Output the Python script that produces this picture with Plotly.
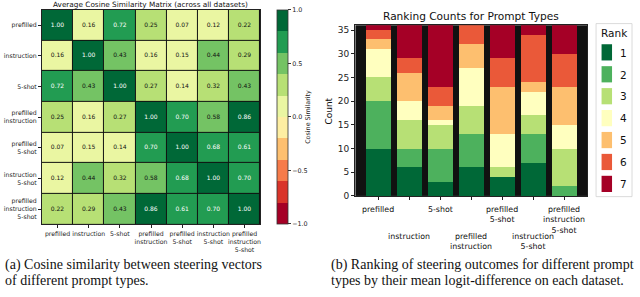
import plotly.graph_objects as go

# ---------------- data ----------------
prompt_types = ["prefilled", "instruction", "5-shot", "prefilled instruction",
                "prefilled 5-shot", "instruction 5-shot", "prefilled instruction 5-shot"]
tick_labels = ["prefilled", "instruction", "5-shot", "prefilled<br>instruction",
               "prefilled<br>5-shot", "instruction<br>5-shot", "prefilled<br>instruction<br>5-shot"]

cos_sim = [
    [1.00, 0.16, 0.72, 0.25, 0.07, 0.12, 0.22],
    [0.16, 1.00, 0.43, 0.16, 0.15, 0.44, 0.29],
    [0.72, 0.43, 1.00, 0.27, 0.14, 0.32, 0.43],
    [0.25, 0.16, 0.27, 1.00, 0.70, 0.58, 0.86],
    [0.07, 0.15, 0.14, 0.70, 1.00, 0.68, 0.61],
    [0.12, 0.44, 0.32, 0.58, 0.68, 1.00, 0.70],
    [0.22, 0.29, 0.43, 0.86, 0.61, 0.70, 1.00],
]

ranks = ["1", "2", "3", "4", "5", "6", "7"]
rank1 = [10, 6, 3, 6, 4, 7, 0]
rank2 = [10, 4, 7, 7, 0, 6, 2]
rank3 = [5, 6, 5, 6, 2, 4, 8]
rank4 = [6, 4, 1, 8, 7, 5, 5]
rank5 = [2, 6, 3, 5, 10, 2, 8]
rank6 = [2, 3, 4, 4, 6, 10, 7]
rank7 = [1, 7, 13, 0, 7, 2, 6]
rank_counts = [rank1, rank2, rank3, rank4, rank5, rank6, rank7]

cbar_ticks = [-1.0, -0.5, 0.0, 0.5, 1.0]
cbar_ticktext = ["\u22121.0", "\u22120.5", "0.0", "0.5", "1.0"]
count_ticks = [0, 5, 10, 15, 20, 25, 30, 35]

# ---------------- styles ----------------
heat_colors = ["#a50026", "#d9342a", "#f67b4a", "#fdbf6f", "#feeea2",
               "#eaf6a2", "#b7e075", "#74c364", "#229c52", "#006837"]
rank_colors = ["#006837", "#4db15d", "#b7e075", "#ffffbf", "#fdbf6f", "#ea5939", "#a50026"]
FONT = "DejaVu Sans"
W, H = 640, 297

def px(v):  # pixel x -> paper
    return v / W

def py(v):  # pixel y (from top) -> paper
    return 1 - v / H

colorscale = []
n = len(heat_colors)
for i, c in enumerate(heat_colors):
    colorscale.append([i / n, c])
    colorscale.append([(i + 1) / n, c])

fig = go.Figure()

idx = list(range(len(prompt_types)))
fig.add_trace(go.Heatmap(
    z=cos_sim, x=idx, y=idx, zmin=-1, zmax=1, colorscale=colorscale,
    xgap=1, ygap=1, xaxis="x", yaxis="y", hoverinfo="skip",
    colorbar=dict(
        x=px(277), xanchor="left", xpad=0, ypad=0,
        y=py(119), yanchor="middle", len=218 / H, lenmode="fraction",
        thickness=11, thicknessmode="pixels",
        outlinewidth=0.8, outlinecolor="#333",
        tickvals=cbar_ticks, ticktext=cbar_ticktext, ticks="outside", ticklen=3,
        tickcolor="#333", tickfont=dict(family=FONT, size=6.4, color="#222"),
        title=dict(text="Cosine Similarity", side="right",
                   font=dict(family=FONT, size=6.4, color="#222")),
    ),
))

tx, ty, tt, tc = [], [], [], []
for r, row in enumerate(cos_sim):
    for c, v in enumerate(row):
        tx.append(c); ty.append(r); tt.append(f"{v:.2f}")
        tc.append("white" if v >= 0.6 else "#111")
fig.add_trace(go.Scatter(x=tx, y=ty, text=tt, mode="text", xaxis="x", yaxis="y",
                         textfont=dict(family=FONT, size=6, color=tc),
                         showlegend=False, hoverinfo="skip"))

for k, counts in enumerate(rank_counts):
    fig.add_trace(go.Bar(x=idx, y=counts, name=ranks[k], marker_color=rank_colors[k],
                         marker_line_width=0, width=0.8, xaxis="x2", yaxis="y2",
                         showlegend=False))

axis_common = dict(showline=True, linecolor="#222", linewidth=0.8, mirror=True,
                   ticks="outside", tickcolor="#222", showgrid=False, zeroline=False)

fig.update_layout(
    width=W, height=H, margin=dict(l=0, r=0, t=0, b=0),
    paper_bgcolor="white", plot_bgcolor="#111", barmode="stack",
    showlegend=False,
    xaxis=dict(domain=[px(42), px(260.5)], range=[-0.5, 6.5], tickvals=idx,
               ticktext=tick_labels, ticklen=3, tickangle=0,
               tickfont=dict(family=FONT, size=6.2, color="#222"),
               anchor="y", **axis_common),
    yaxis=dict(domain=[py(228.3), py(10)], range=[6.5, -0.5], tickvals=idx,
               ticktext=tick_labels, ticklen=3, tickangle=0,
               tickfont=dict(family=FONT, size=6.2, color="#222"),
               anchor="x", **axis_common),
    xaxis2=dict(domain=[px(356), px(588)], range=[-0.74, 6.74], tickvals=idx,
                showticklabels=False, ticklen=3.5, anchor="y2", **axis_common),
    yaxis2=dict(domain=[py(199.3), py(25.7)], range=[0, 36], tickvals=count_ticks,
                ticklen=3.5, tickfont=dict(family=FONT, size=9, color="#222"),
                anchor="x2", **axis_common),
)

ann = []
ann.append(dict(text="Average Cosine Similarity Matrix (across all datasets)",
                x=px(151), y=py(4.5), xref="paper", yref="paper", showarrow=False,
                xanchor="center", yanchor="middle",
                font=dict(family=FONT, size=7.3, color="#111")))
ann.append(dict(text="Ranking Counts for Prompt Types",
                x=px(472), y=py(16.5), xref="paper", yref="paper", showarrow=False,
                xanchor="center", yanchor="middle",
                font=dict(family=FONT, size=10.6, color="#111")))
ann.append(dict(text="Count", x=px(330), y=py(113), xref="paper", yref="paper",
                showarrow=False, textangle=-90, xanchor="center", yanchor="middle",
                font=dict(family=FONT, size=9, color="#111")))
for i, lab in enumerate(tick_labels):
    top = 206.5 if i % 2 == 0 else 234
    ann.append(dict(text=lab, x=i, y=py(top), xref="x2", yref="paper",
                    showarrow=False, xanchor="center", yanchor="top", align="center",
                    font=dict(family=FONT, size=7.9, color="#111")))

# legend (manual)
shapes = [dict(type="rect", xref="paper", yref="paper", x0=px(597), x1=px(633),
               y0=py(200), y1=py(24), line=dict(color="#d0d0d0", width=0.8),
               fillcolor="white", layer="above")]
ann.append(dict(text="Rank", x=px(615), y=py(33.5), xref="paper", yref="paper",
                showarrow=False, xanchor="center", yanchor="middle",
                font=dict(family=FONT, size=10.5, color="#111")))
for k, lab in enumerate(ranks):
    top = 45 + 22.3 * k
    shapes.append(dict(type="rect", xref="paper", yref="paper", x0=px(602.5), x1=px(613),
                       y0=py(top + 16.5), y1=py(top), line=dict(width=0),
                       fillcolor=rank_colors[k], layer="above"))
    ann.append(dict(text=lab, x=px(624.5), y=py(top + 8.5), xref="paper", yref="paper",
                    showarrow=False, xanchor="center", yanchor="middle",
                    font=dict(family=FONT, size=10.5, color="#111")))

# captions
SERIF = "Liberation Serif"
cap = [("(a) Cosine similarity between steering vectors", 3, 270),
       ("of different prompt types.", 3, 285),
       ("(b) Ranking of steering outcomes for different prompt", 330, 270),
       ("types by their mean logit-difference on each dataset.", 330, 285)]
for t, x, y in cap:
    ann.append(dict(text=t, x=px(x), y=py(y), xref="paper", yref="paper", showarrow=False,
                    xanchor="left", yanchor="middle",
                    font=dict(family=SERIF, size=14, color="#111")))

fig.update_layout(annotations=ann, shapes=shapes)
fig.write_html("out.html", config={"displayModeBar": False},
               post_script="document.body.style.margin='0';document.body.style.overflow='hidden';")
